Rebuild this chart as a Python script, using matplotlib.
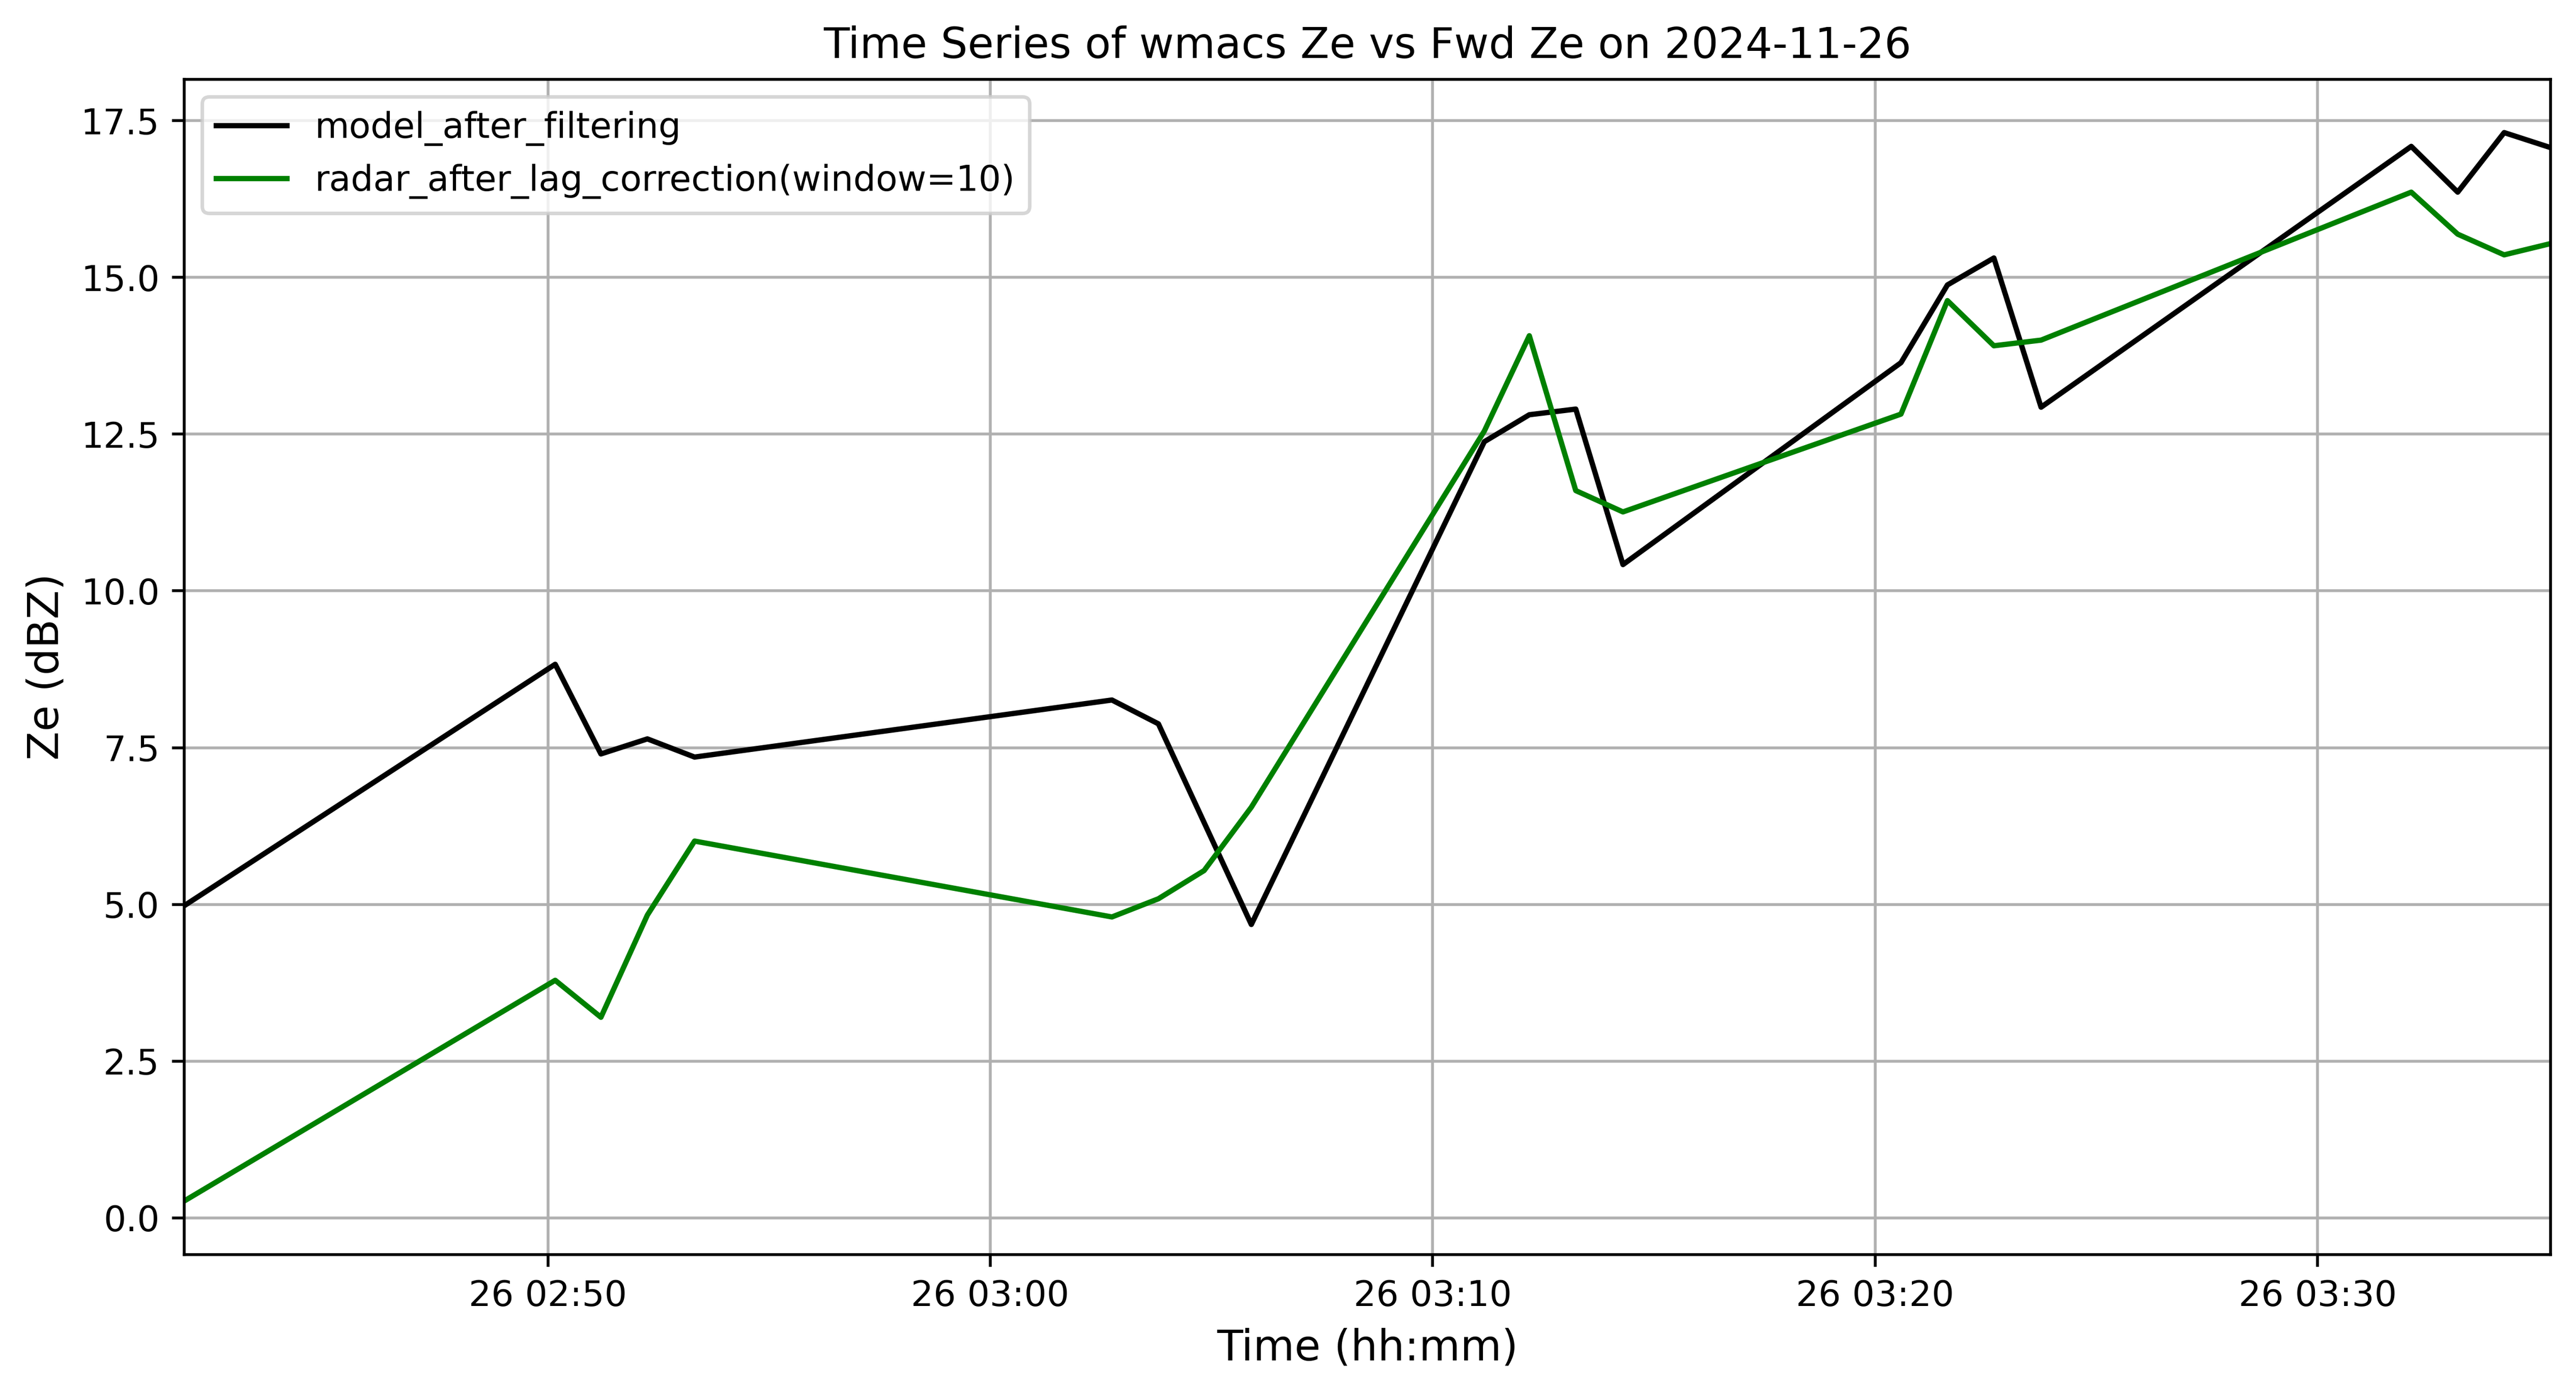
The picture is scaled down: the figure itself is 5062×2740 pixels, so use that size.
import pandas as pd
import matplotlib
matplotlib.use("Agg")
import matplotlib.pyplot as plt

DATE = "2024-11-26"

# model series (after filtering)
model_times = ["02:41:47", "02:50:10", "02:51:12", "02:52:15", "02:53:19",
               "03:02:45", "03:03:48", "03:05:54",
               "03:11:10", "03:12:11", "03:13:14", "03:14:18",
               "03:20:35", "03:21:38", "03:22:41", "03:23:45",
               "03:32:07", "03:33:10", "03:34:13", "03:35:16"]
model_ze = [4.98, 8.83, 7.40, 7.64, 7.35,
            8.26, 7.88, 4.68,
            12.38, 12.81, 12.90, 10.42,
            13.64, 14.88, 15.31, 12.93,
            17.09, 16.36, 17.31, 17.07]

# radar series (after lag correction)
radar_times = ["02:41:47", "02:50:10", "02:51:12", "02:52:15", "02:53:19",
               "03:02:45", "03:03:48", "03:04:50", "03:05:54",
               "03:11:10", "03:12:11", "03:13:14", "03:14:18",
               "03:20:35", "03:21:38", "03:22:41", "03:23:45",
               "03:32:07", "03:33:10", "03:34:13", "03:35:16"]
radar_ze = [0.27, 3.79, 3.20, 4.83, 6.01,
            4.80, 5.09, 5.54, 6.55,
            12.55, 14.07, 11.60, 11.26,
            12.82, 14.63, 13.91, 14.00,
            16.36, 15.69, 15.36, 15.54]

t_model = pd.to_datetime([DATE + " " + t for t in model_times])
t_radar = pd.to_datetime([DATE + " " + t for t in radar_times])

fig, ax = plt.subplots(figsize=(12, 6))
ax.plot(t_model, model_ze, color="black", lw=1.5, label="model_after_filtering")
ax.plot(t_radar, radar_ze, color="green", lw=1.5, label="radar_after_lag_correction(window=10)")

ax.set_xlim(min(t_model[0], t_radar[0]), max(t_model[-1], t_radar[-1]))
ax.set_title(f"Time Series of wmacs Ze vs Fwd Ze on {DATE}")
ax.set_xlabel("Time (hh:mm)", fontsize=12)
ax.set_ylabel("Ze (dBZ)", fontsize=12)
ax.legend()
ax.grid(True)

plt.savefig("out.png", dpi=500, bbox_inches="tight")
